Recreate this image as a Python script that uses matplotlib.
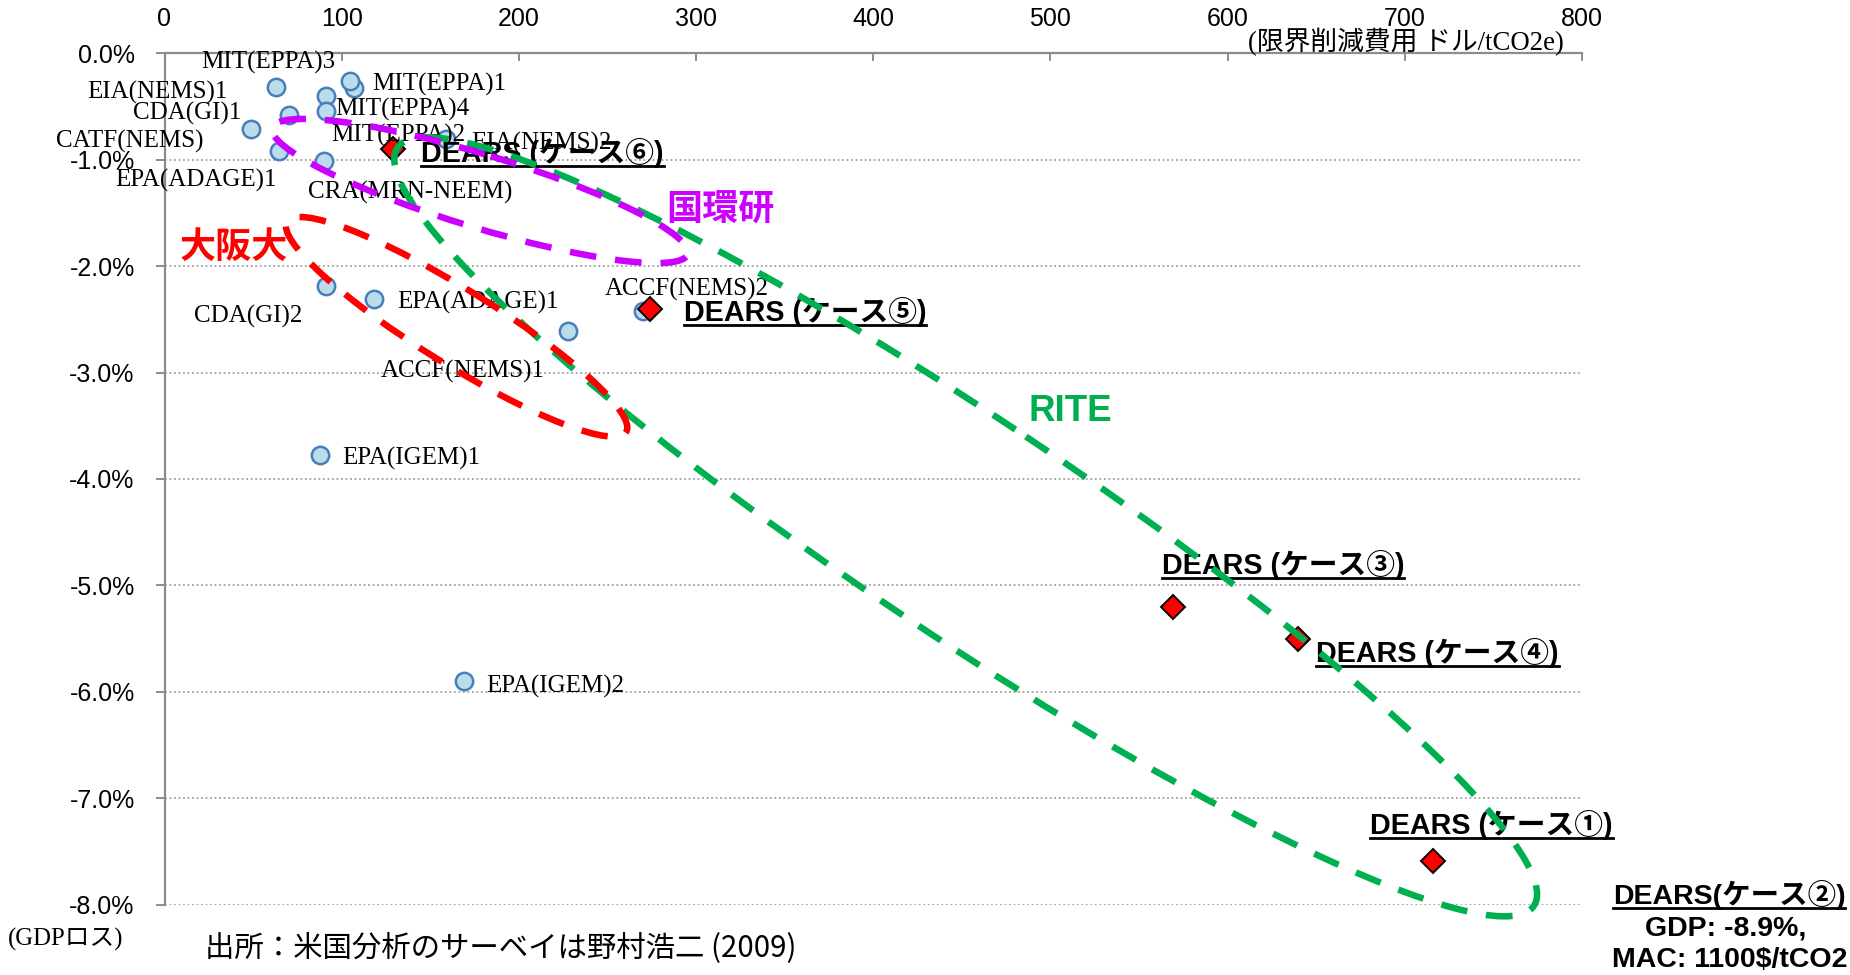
import matplotlib
matplotlib.use("Agg")
import matplotlib.pyplot as plt
from matplotlib.patches import Ellipse
from matplotlib.ticker import FuncFormatter
from matplotlib.transforms import Affine2D
from matplotlib.lines import Line2D

plt.rcParams['font.family'] = ['Liberation Sans', 'Noto Sans CJK JP', 'DejaVu Sans']

# ---------------- data ----------------
study_names = ["MIT(EPPA)3", "EIA(NEMS)1", "MIT(EPPA)1", "MIT(EPPA)2", "CDA(GI)1",
               "MIT(EPPA)4", "CATF(NEMS)", "EPA(ADAGE)1", "CRA(MRN-NEEM)", "EIA(NEMS)2",
               "CDA(GI)2", "EPA(ADAGE)1", "ACCF(NEMS)1", "ACCF(NEMS)2", "EPA(IGEM)1",
               "EPA(IGEM)2"]
study_mac = [91, 63, 107, 104.5, 70, 91, 49, 64.5, 90, 159, 91, 118.5, 227.5, 270, 87.5, 169]
study_gdp = [-0.40, -0.32, -0.33, -0.265, -0.58, -0.54, -0.71, -0.915, -1.015, -0.81,
             -2.19, -2.31, -2.61, -2.42, -3.78, -5.90]

dears_labels = ["DEARS (ケース⑥)", "DEARS (ケース⑤)", "DEARS (ケース③)",
                "DEARS (ケース④)", "DEARS (ケース①)"]
dears_mac = [129, 274, 569, 640, 716]
dears_gdp = [-0.90, -2.40, -5.20, -5.50, -7.59]

dears2_lines = ["DEARS(ケース②)", "GDP: -8.9%,", "MAC: 1100$/tCO2"]

x_ticks = [0, 100, 200, 300, 400, 500, 600, 700, 800]
y_ticks = [0, -1, -2, -3, -4, -5, -6, -7, -8]

group_names = ["国環研", "大阪大", "RITE"]

# ---------------- layout / style ----------------
W, H, DPI = 1850, 975, 100
# label offsets in pixels (dx right, dy down) relative to the point
study_offsets = [(-125, -33), (-189, 5), (18, -4), (-18, 54), (-156, -2), (9, -1),
                 (-195, 13), (-164, 30), (-16, 31), (25, 4), (-132, 30), (23, 3),
                 (-187, 40), (-38, -21), (23, 3), (22, 5)]
dears_offsets = [(28, 4), (34, 3), (-11, -42), (18, 14), (-63, -36)]

fig = plt.figure(figsize=(W / DPI, H / DPI), dpi=DPI)
ax = fig.add_axes([164.5 / W, 1 - 904.5 / H, (1582 - 164.5) / W, (904.5 - 53.3) / H])
ax.set_xlim(0, 800)
ax.set_ylim(-8, 0)
ax.xaxis.tick_top()
ax.set_xticks(x_ticks)
ax.set_yticks(y_ticks)
ax.yaxis.set_major_formatter(FuncFormatter(lambda v, p: "0.0%" if abs(v) < 1e-9 else f"{v:.1f}%"))
for s in ['right', 'bottom']:
    ax.spines[s].set_visible(False)
for s in ['top', 'left']:
    ax.spines[s].set_color('#8C8C8C')
    ax.spines[s].set_linewidth(1.6)
ax.tick_params(axis='x', direction='in', length=5.5, width=1.4, color='#8C8C8C',
               pad=16, labelsize=18, labelcolor='black')
ax.tick_params(axis='y', direction='out', length=6.5, width=1.4, color='#8C8C8C',
               pad=15, labelsize=18, labelcolor='black')
for v in y_ticks[1:]:
    ax.axhline(v, color='#A0A0A0', lw=1.3, ls=(0, (1, 1.5)), zorder=0)

# points
ax.plot(study_mac, study_gdp, ls='none', marker='o', ms=12.5, mfc='#B9DDEB',
        mec='#4A7EBB', mew=1.8, zorder=3, clip_on=False)
ax.plot(dears_mac, dears_gdp, ls='none', marker='D', ms=12.5, mfc='#FF0000',
        mec='black', mew=1.4, zorder=4, clip_on=False)

serif = ['Liberation Serif', 'Noto Sans CJK JP']
for name, x, y, (dx, dy) in zip(study_names, study_mac, study_gdp, study_offsets):
    ax.annotate(name, (x, y), xytext=(dx, -dy), textcoords='offset pixels',
                ha='left', va='center', fontsize=18, family=serif, zorder=5,
                annotation_clip=False)

underlined = []
for lab, x, y, (dx, dy) in zip(dears_labels, dears_mac, dears_gdp, dears_offsets):
    t = ax.annotate(lab, (x, y), xytext=(dx, -dy), textcoords='offset pixels',
                    ha='left', va='center', fontsize=20.7, fontweight='bold', zorder=6,
                    annotation_clip=False)
    underlined.append(t)

t2 = fig.text(1729 / W, 1 - 895 / H, dears2_lines[0], ha='center', va='center',
              fontsize=20.5, fontweight='bold')
underlined.append(t2)
fig.text(1726 / W, 1 - 928 / H, dears2_lines[1], ha='center', va='center',
         fontsize=20.5, fontweight='bold')
fig.text(1730 / W, 1 - 960 / H, dears2_lines[2], ha='center', va='center',
         fontsize=20.5, fontweight='bold')

# group ellipses (drawn in reference pixel frame, y down)
pix = Affine2D().scale(1 / W, -1 / H).translate(0, 1) + fig.transFigure
ell_specs = [((965.7, 526.8), 1366, 217, 33.7, '#00B050'),
             ((480, 191), 434, 73, 16.9, '#CC00FF'),
             ((456.6, 326.8), 399, 75, 31.8, '#FF0000')]
for c, w, h, a, col in ell_specs:
    e = Ellipse(c, w, h, angle=a, fill=False, edgecolor=col, lw=4.7,
                ls=(0, (4.1, 2.9)), transform=pix, zorder=10)
    e.set_capstyle('butt')
    fig.add_artist(e)

fig.text(720 / W, 1 - 210 / H, group_names[0], color='#CC00FF', fontsize=26,
         fontweight='bold', ha='center', va='center', family=['Noto Sans CJK JP'])
fig.text(234 / W, 1 - 247 / H, group_names[1], color='#FF0000', fontsize=26,
         fontweight='bold', ha='center', va='center', family=['Noto Sans CJK JP'])
fig.text(1070 / W, 1 - 412 / H, group_names[2], color='#00B050', fontsize=26.5,
         fontweight='bold', ha='center', va='center')

# axis titles and source
fig.text(1564 / W, 1 - 41.7 / H, "(限界削減費用 ドル/tCO2e)", ha='right', va='center',
         fontsize=19.3, family=serif)
fig.text(8 / W, 1 - 939 / H, "(GDPロス)", ha='left', va='center', fontsize=17.8,
         family=serif)
fig.text(205 / W, 1 - 948 / H, "出所：米国分析のサーベイは野村浩二 (2009)", ha='left',
         va='center', fontsize=21.2, family=['Noto Sans CJK JP'])

# underlines
fig.canvas.draw()
r = fig.canvas.get_renderer()
for t in underlined:
    bb = t.get_window_extent(r)
    y = (bb.y0 + bb.y1) / 2 - 13
    fig.add_artist(Line2D([bb.x0 / W, bb.x1 / W], [y / H, y / H],
                          transform=fig.transFigure, color='black', lw=2.0, zorder=7))

fig.savefig("out.png", dpi=DPI)
